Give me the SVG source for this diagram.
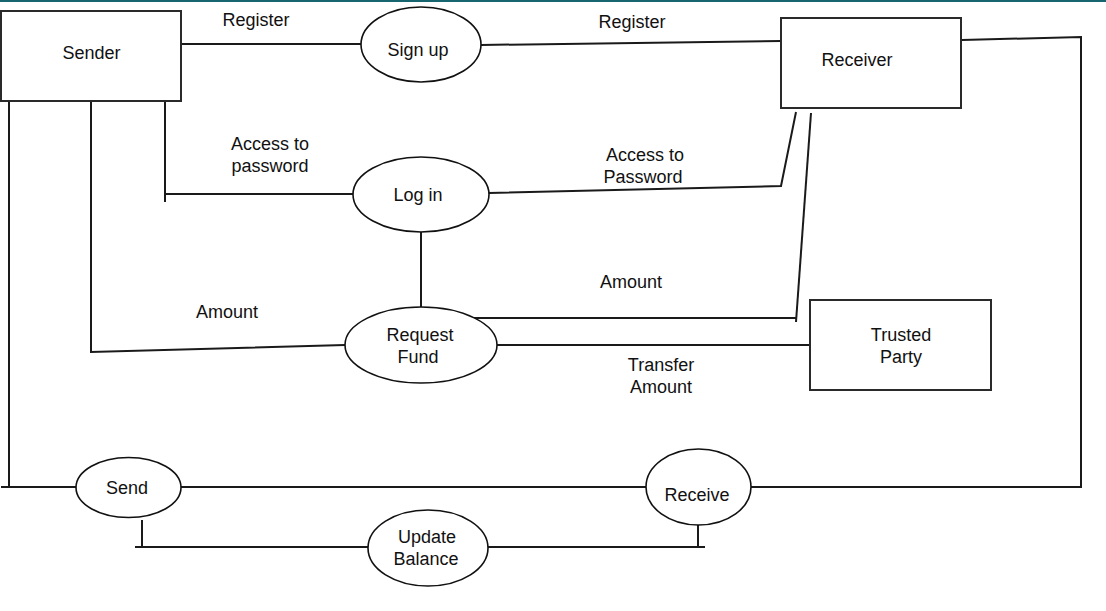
<svg xmlns="http://www.w3.org/2000/svg" width="1106" height="611" viewBox="0 0 1106 611">
<style>
.bg{fill:#ffffff}
.box{fill:#ffffff;stroke:#2a2a2a;stroke-width:2}
.proc{fill:#ffffff;stroke:#111111;stroke-width:1.6}
.ln{fill:none;stroke:#1a1a1a;stroke-width:2}
text{font-family:"Liberation Sans",Arial,sans-serif;font-size:18px;fill:#111111;text-anchor:middle}
</style>
<rect class="bg" x="0" y="0" width="1106" height="611"/>
<rect x="0" y="0" width="1106" height="2" fill="#17656e"/>
<g id="connectors">
  <polyline class="ln" points="181,44 361,44"/>
  <polyline class="ln" points="481,45 781,41"/>
  <polyline class="ln" points="962,40 1081,37 1081,487 751,487"/>
  <polyline class="ln" points="165,101 165,202"/>
  <polyline class="ln" points="165,194 353,194"/>
  <polyline class="ln" points="796,112 781,186 489,193"/>
  <polyline class="ln" points="421,232 421,307"/>
  <polyline class="ln" points="811,113 796,322"/>
  <polyline class="ln" points="473,318 796,318"/>
  <polyline class="ln" points="497,345 810,345"/>
  <polyline class="ln" points="91,101 91,352 345,345"/>
  <polyline class="ln" points="9,101 9,487"/>
  <polyline class="ln" points="1,487 76,487"/>
  <polyline class="ln" points="181,487 646,487"/>
  <polyline class="ln" points="142,520 142,547"/>
  <polyline class="ln" points="135,547 368,547"/>
  <polyline class="ln" points="488,547 705,547"/>
  <polyline class="ln" points="698,525 698,547"/>
</g>
<g id="labels">
  <text x="256" y="26">Register</text>
  <text x="632" y="28">Register</text>
  <text x="270" y="150">Access to</text>
  <text x="270" y="172">password</text>
  <text x="645" y="161">Access to</text>
  <text x="643" y="183">Password</text>
  <text x="631" y="288">Amount</text>
  <text x="227" y="318">Amount</text>
  <text x="661" y="371">Transfer</text>
  <text x="661" y="393">Amount</text>
</g>
<g id="sender">
  <rect class="box" x="1" y="11" width="180" height="90"/>
  <text x="91.5" y="59">Sender</text>
</g>
<g id="receiver">
  <rect class="box" x="781" y="18" width="180" height="90"/>
  <text x="857" y="66">Receiver</text>
</g>
<g id="trusted-party">
  <rect class="box" x="810" y="300" width="181" height="90"/>
  <text x="901" y="341">Trusted</text>
  <text x="901" y="363">Party</text>
</g>
<g id="sign-up">
  <ellipse class="proc" cx="421" cy="44.5" rx="60" ry="37.5"/>
  <text x="418" y="56">Sign up</text>
</g>
<g id="log-in">
  <ellipse class="proc" cx="421" cy="194.5" rx="68" ry="37.5"/>
  <text x="418" y="201">Log in</text>
</g>
<g id="request-fund">
  <ellipse class="proc" cx="421" cy="345" rx="76" ry="38"/>
  <text x="420" y="341">Request</text>
  <text x="418" y="363">Fund</text>
</g>
<g id="send">
  <ellipse class="proc" cx="128.5" cy="487.5" rx="52.5" ry="30"/>
  <text x="127" y="494">Send</text>
</g>
<g id="receive">
  <ellipse class="proc" cx="698.5" cy="487" rx="52.5" ry="38"/>
  <text x="697" y="501">Receive</text>
</g>
<g id="update-balance">
  <ellipse class="proc" cx="428" cy="548" rx="60" ry="38"/>
  <text x="427" y="543">Update</text>
  <text x="426" y="565">Balance</text>
</g>
</svg>
